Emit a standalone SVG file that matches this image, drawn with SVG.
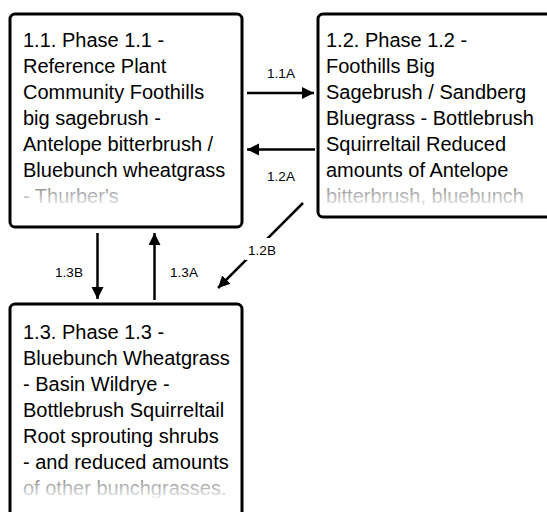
<svg xmlns="http://www.w3.org/2000/svg" width="547" height="512" viewBox="0 0 547 512">
<style>
.box{fill:#fff;stroke:#000;stroke-width:3}
.t{font-family:"Liberation Sans",Arial,sans-serif;font-size:20px;fill:#000}
.lbl{font-family:"Liberation Sans",Arial,sans-serif;font-size:13.5px;fill:#000;text-anchor:middle}
.c{stroke:#000;stroke-width:2.5;fill:none;marker-end:url(#ah)}
</style>
<defs>
<marker id="ah" markerUnits="userSpaceOnUse" markerWidth="14" markerHeight="14" refX="12" refY="6" orient="auto">
<path d="M0,0 L12,6 L0,12 Z" fill="#000"/>
</marker>
<linearGradient id="fade" x1="0" y1="0" x2="0" y2="1">
<stop offset="0" stop-color="#fff" stop-opacity="0.5"/>
<stop offset="1" stop-color="#fff" stop-opacity="0.95"/>
</linearGradient>
<clipPath id="c1"><rect x="12" y="16" width="228" height="192"/></clipPath>
<clipPath id="c2"><rect x="320" y="16" width="227" height="192"/></clipPath>
<clipPath id="c3"><rect x="12" y="306" width="228" height="192"/></clipPath>
</defs>
<g id="node-1-1">
<rect class="box" x="10" y="14" width="232" height="213" rx="5"/>
<g clip-path="url(#c1)">
<text class="t" x="23" y="47">1.1. Phase 1.1 -</text>
<text class="t" x="23" y="73">Reference Plant</text>
<text class="t" x="23" y="99">Community Foothills</text>
<text class="t" x="23" y="125">big sagebrush -</text>
<text class="t" x="23" y="151">Antelope bitterbrush /</text>
<text class="t" x="23" y="177">Bluebunch wheatgrass</text>
<text class="t" x="23" y="203">- Thurber's</text>
</g>
<rect x="12" y="184" width="228" height="24" fill="url(#fade)"/>
</g>
<g id="node-1-2">
<rect class="box" x="318" y="14" width="245" height="203" rx="5"/>
<g clip-path="url(#c2)">
<text class="t" x="326" y="47">1.2. Phase 1.2 -</text>
<text class="t" x="326" y="73">Foothills Big</text>
<text class="t" x="326" y="99">Sagebrush / Sandberg</text>
<text class="t" x="326" y="125">Bluegrass - Bottlebrush</text>
<text class="t" x="326" y="151">Squirreltail Reduced</text>
<text class="t" x="326" y="177">amounts of Antelope</text>
<text class="t" x="326" y="203">bitterbrush, bluebunch</text>
</g>
<rect x="320" y="184" width="227" height="24" fill="url(#fade)"/>
</g>
<g id="node-1-3">
<rect class="box" x="10" y="304" width="232" height="230" rx="5"/>
<g clip-path="url(#c3)">
<text class="t" x="23" y="339">1.3. Phase 1.3 -</text>
<text class="t" x="23" y="365">Bluebunch Wheatgrass</text>
<text class="t" x="23" y="391">- Basin Wildrye -</text>
<text class="t" x="23" y="417">Bottlebrush Squirreltail</text>
<text class="t" x="23" y="443">Root sprouting shrubs</text>
<text class="t" x="23" y="469">- and reduced amounts</text>
<text class="t" x="23" y="495">of other bunchgrasses.</text>
</g>
<rect x="12" y="476" width="228" height="24" fill="url(#fade)"/>
</g>
<g id="connectors">
<line class="c" x1="247" y1="93" x2="314" y2="93"/>
<text class="lbl" x="281" y="78">1.1A</text>
<line class="c" x1="315" y1="149.5" x2="247" y2="149.5"/>
<text class="lbl" x="281" y="181">1.2A</text>
<line class="c" x1="303" y1="203" x2="218" y2="288"/>
<rect x="245" y="238" width="34" height="22" fill="#fff"/>
<text class="lbl" x="262" y="255">1.2B</text>
<line class="c" x1="97.5" y1="233" x2="97.5" y2="299"/>
<text class="lbl" x="69" y="277">1.3B</text>
<line class="c" x1="154.5" y1="300" x2="154.5" y2="233"/>
<text class="lbl" x="184" y="277">1.3A</text>
</g>
</svg>
